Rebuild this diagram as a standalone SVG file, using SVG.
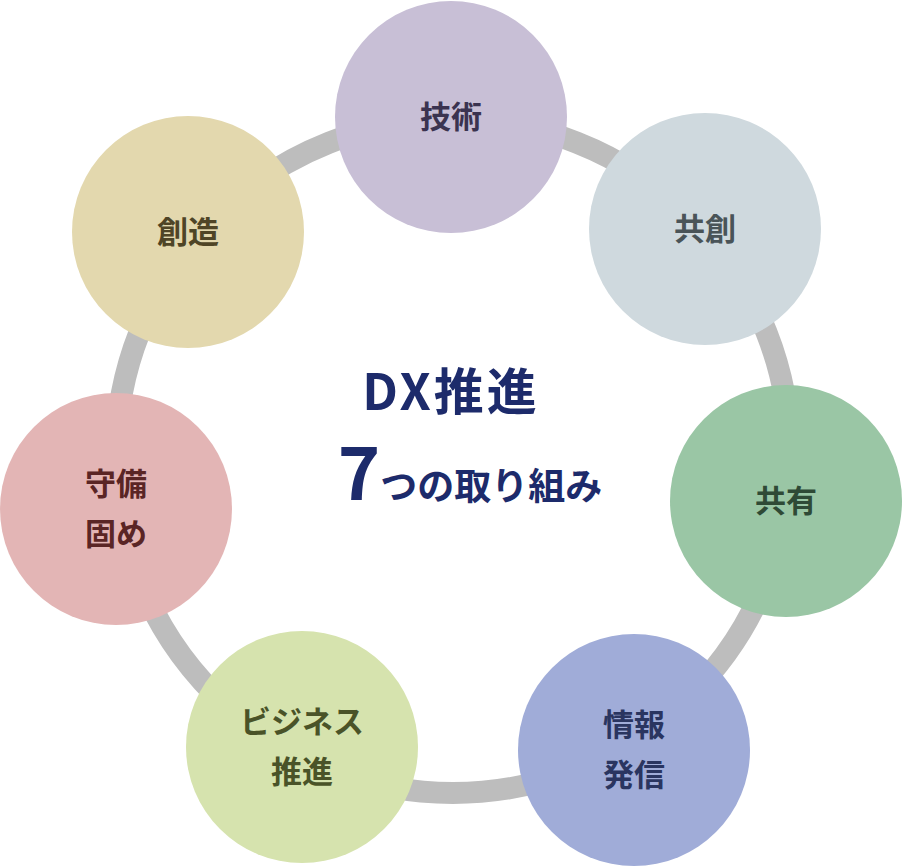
<svg xmlns="http://www.w3.org/2000/svg" width="902" height="866" viewBox="0 0 902 866">
<style>
text{font-family:"Noto Sans CJK JP","Noto Sans",sans-serif;font-weight:bold;text-anchor:middle}
.n{font-size:31px}
.c{fill:#1d2b6b}
</style>
<rect width="902" height="866" fill="#fff"/>
<g id="connectors"><circle cx="453" cy="456" r="337" fill="none" stroke="#bdbdbd" stroke-width="22"/></g>
<g id="n1"><circle cx="451" cy="117" r="116" fill="#c8bfd6"/><text class="n" x="451" y="128" fill="#3b3350">技術</text></g>
<g id="n2"><circle cx="705" cy="229" r="116" fill="#cfd9de"/><text class="n" x="705" y="240" fill="#4a5458">共創</text></g>
<g id="n3"><circle cx="786" cy="501" r="116" fill="#9ac6a5"/><text class="n" x="786" y="512" fill="#2f4a36">共有</text></g>
<g id="n4"><circle cx="634" cy="750" r="116" fill="#a0acd8"/><text class="n" x="634" y="736" fill="#2a3560">情報</text><text class="n" x="634" y="786" fill="#2a3560">発信</text></g>
<g id="n5"><circle cx="302" cy="747" r="116" fill="#d6e3ae"/><text class="n" x="302" y="733" fill="#4a5328">ビジネス</text><text class="n" x="302" y="783" fill="#4a5328">推進</text></g>
<g id="n6"><circle cx="116" cy="509" r="116" fill="#e3b5b5"/><text class="n" x="116" y="495" fill="#5a2525">守備</text><text class="n" x="116" y="545" fill="#5a2525">固め</text></g>
<g id="n7"><circle cx="188" cy="232" r="116" fill="#e3d8ae"/><text class="n" x="188" y="243" fill="#4f4526">創造</text></g>
<g id="center">
<text class="c" x="451" y="410" font-size="50" letter-spacing="3">DX推進</text>
<text class="c" x="470" y="500" font-size="37"><tspan font-size="72">7</tspan>つの取り組み</text>
</g>
</svg>
